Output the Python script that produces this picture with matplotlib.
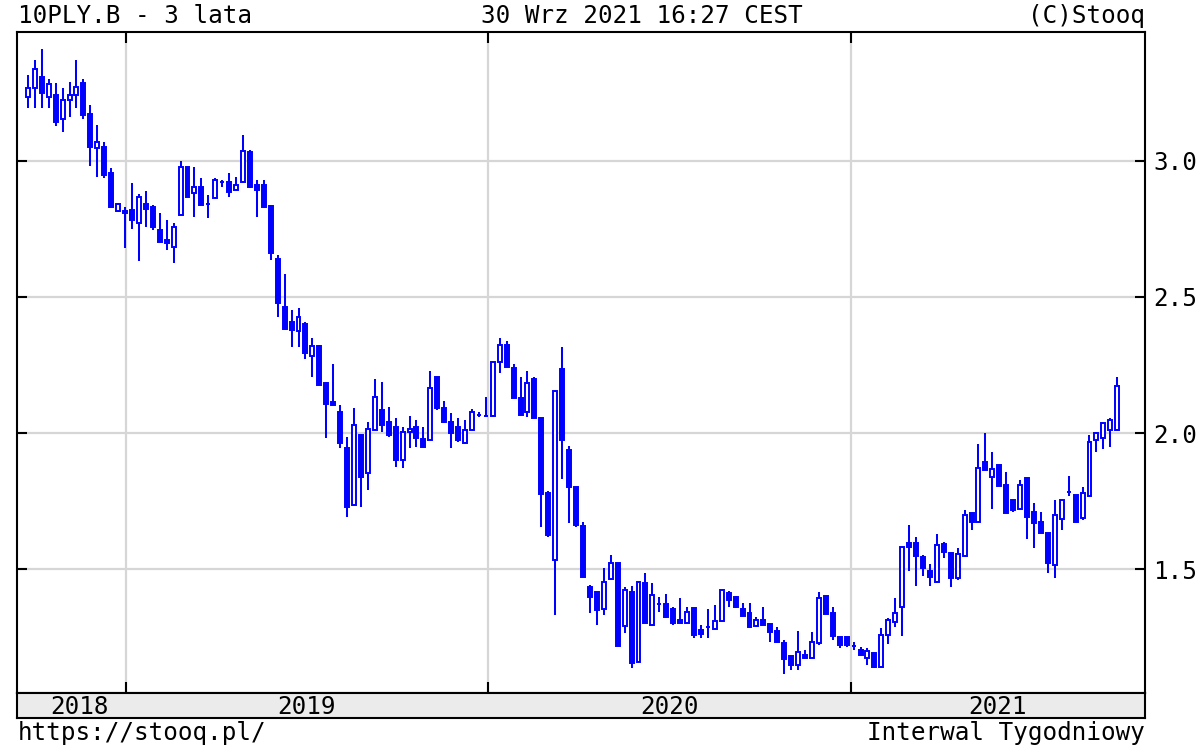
import matplotlib
matplotlib.use('Agg')
import matplotlib.pyplot as plt
import matplotlib.dates as mdates
import numpy as np
import pandas as pd

# ---- data (weekly OHLC, 10PLY.B) ----
start_date = '2018-09-24'
opens = [3.235, 3.268, 3.309, 3.235, 3.243, 3.155, 3.224, 3.243, 3.287, 3.173,
         3.048, 3.052, 2.956, 2.816, 2.816, 2.820, 2.772, 2.842, 2.831, 2.746,
         2.710, 2.684, 2.802, 2.978, 2.882, 2.904, 2.842, 2.864, 2.923, 2.923,
         2.893, 2.923, 3.033, 2.912, 2.912, 2.835, 2.640, 2.463, 2.408, 2.375,
         2.401, 2.283, 2.320, 2.184, 2.114, 2.077, 1.945, 1.735, 1.993, 1.853,
         2.011, 2.085, 2.041, 2.022, 1.901, 2.004, 2.022, 1.978, 1.974, 2.206,
         2.092, 2.041, 2.022, 1.963, 2.011, 2.066, 2.063, 2.063, 2.261, 2.324,
         2.239, 2.129, 2.077, 2.199, 2.055, 1.780, 1.533, 2.236, 1.938, 1.802,
         1.658, 1.434, 1.416, 1.353, 1.463, 1.522, 1.291, 1.416, 1.158, 1.449,
         1.294, 1.372, 1.372, 1.353, 1.313, 1.302, 1.357, 1.276, 1.287, 1.280,
         1.309, 1.412, 1.397, 1.353, 1.338, 1.291, 1.313, 1.298, 1.272, 1.228,
         1.180, 1.147, 1.184, 1.173, 1.228, 1.401, 1.338, 1.250, 1.250, 1.217,
         1.202, 1.173, 1.191, 1.140, 1.258, 1.305, 1.360, 1.596, 1.596, 1.544,
         1.493, 1.452, 1.592, 1.559, 1.467, 1.548, 1.706, 1.673, 1.894, 1.838,
         1.883, 1.809, 1.754, 1.721, 1.835, 1.710, 1.673, 1.633, 1.515, 1.684,
         1.783, 1.772, 1.688, 1.769, 1.974, 1.982, 2.011, 2.011]
highs = [3.316, 3.371, 3.412, 3.302, 3.287, 3.268, 3.291, 3.371, 3.302, 3.206,
         3.132, 3.070, 2.974, 2.846, 2.831, 2.919, 2.879, 2.890, 2.838, 2.809,
         2.783, 2.772, 3.000, 2.978, 2.978, 2.938, 2.875, 2.938, 2.930, 2.956,
         2.941, 3.096, 3.040, 2.930, 2.930, 2.838, 2.654, 2.585, 2.452, 2.460,
         2.408, 2.349, 2.324, 2.188, 2.254, 2.103, 1.985, 2.092, 1.993, 2.041,
         2.199, 2.188, 2.096, 2.055, 2.022, 2.063, 2.048, 2.022, 2.228, 2.206,
         2.118, 2.074, 2.055, 2.048, 2.088, 2.077, 2.133, 2.261, 2.349, 2.338,
         2.254, 2.206, 2.228, 2.206, 2.055, 1.787, 2.155, 2.316, 1.952, 1.802,
         1.673, 1.441, 1.416, 1.504, 1.552, 1.522, 1.434, 1.438, 1.452, 1.486,
         1.449, 1.397, 1.408, 1.361, 1.394, 1.361, 1.357, 1.294, 1.353, 1.368,
         1.423, 1.419, 1.401, 1.375, 1.375, 1.324, 1.361, 1.298, 1.287, 1.239,
         1.180, 1.272, 1.202, 1.269, 1.416, 1.401, 1.361, 1.250, 1.250, 1.232,
         1.213, 1.210, 1.195, 1.283, 1.320, 1.394, 1.581, 1.662, 1.618, 1.552,
         1.519, 1.629, 1.599, 1.559, 1.577, 1.717, 1.706, 1.960, 2.000, 1.930,
         1.883, 1.857, 1.754, 1.827, 1.835, 1.743, 1.710, 1.633, 1.754, 1.754,
         1.842, 1.772, 1.802, 1.993, 2.004, 2.037, 2.055, 2.206]
lows = [3.195, 3.195, 3.195, 3.195, 3.129, 3.107, 3.162, 3.195, 3.155, 2.982,
        2.941, 2.938, 2.831, 2.813, 2.680, 2.750, 2.633, 2.757, 2.746, 2.702,
        2.673, 2.625, 2.802, 2.868, 2.794, 2.838, 2.791, 2.864, 2.904, 2.868,
        2.893, 2.923, 2.901, 2.794, 2.827, 2.636, 2.427, 2.383, 2.316, 2.316,
        2.272, 2.206, 2.177, 1.982, 2.103, 1.945, 1.691, 1.735, 1.728, 1.791,
        2.011, 2.004, 1.985, 1.875, 1.871, 1.945, 1.949, 1.949, 1.974, 2.085,
        2.037, 1.945, 1.967, 1.963, 2.011, 2.059, 2.059, 2.063, 2.221, 2.243,
        2.129, 2.066, 2.059, 2.055, 1.655, 1.618, 1.331, 1.831, 1.669, 1.655,
        1.471, 1.338, 1.294, 1.331, 1.463, 1.217, 1.265, 1.136, 1.158, 1.302,
        1.294, 1.342, 1.320, 1.294, 1.302, 1.302, 1.247, 1.247, 1.247, 1.280,
        1.309, 1.361, 1.357, 1.327, 1.287, 1.287, 1.294, 1.232, 1.232, 1.114,
        1.129, 1.129, 1.173, 1.173, 1.221, 1.335, 1.239, 1.210, 1.214, 1.202,
        1.184, 1.147, 1.136, 1.140, 1.225, 1.287, 1.254, 1.493, 1.438, 1.474,
        1.438, 1.452, 1.541, 1.434, 1.460, 1.548, 1.644, 1.673, 1.864, 1.721,
        1.805, 1.706, 1.710, 1.721, 1.610, 1.577, 1.633, 1.485, 1.467, 1.644,
        1.769, 1.673, 1.680, 1.769, 1.930, 1.941, 1.949, 2.011]
closes = [3.268, 3.338, 3.250, 3.283, 3.144, 3.224, 3.243, 3.272, 3.169, 3.052,
          3.070, 2.949, 2.831, 2.842, 2.809, 2.783, 2.868, 2.824, 2.757, 2.702,
          2.699, 2.757, 2.978, 2.868, 2.904, 2.838, 2.842, 2.930, 2.923, 2.886,
          2.912, 3.037, 2.904, 2.893, 2.831, 2.662, 2.478, 2.383, 2.379, 2.427,
          2.294, 2.320, 2.177, 2.107, 2.103, 1.963, 1.728, 2.030, 1.838, 2.015,
          2.133, 2.030, 1.993, 1.901, 2.004, 2.015, 1.982, 1.949, 2.166, 2.092,
          2.041, 2.000, 1.974, 2.011, 2.077, 2.066, 2.063, 2.261, 2.324, 2.243,
          2.129, 2.066, 2.184, 2.055, 1.776, 1.625, 2.155, 1.974, 1.802, 1.662,
          1.471, 1.397, 1.350, 1.452, 1.522, 1.217, 1.423, 1.155, 1.452, 1.302,
          1.405, 1.372, 1.324, 1.302, 1.302, 1.342, 1.258, 1.261, 1.287, 1.309,
          1.423, 1.386, 1.361, 1.327, 1.287, 1.313, 1.294, 1.269, 1.232, 1.169,
          1.147, 1.195, 1.173, 1.232, 1.394, 1.335, 1.254, 1.221, 1.221, 1.217,
          1.184, 1.199, 1.140, 1.258, 1.313, 1.338, 1.581, 1.581, 1.548, 1.504,
          1.471, 1.588, 1.563, 1.467, 1.555, 1.699, 1.673, 1.871, 1.864, 1.868,
          1.805, 1.706, 1.717, 1.809, 1.691, 1.669, 1.633, 1.522, 1.699, 1.754,
          1.783, 1.673, 1.780, 1.967, 2.000, 2.037, 2.048, 2.173]

year_starts = ['2019-01-01', '2020-01-01', '2021-01-01']
year_labels = ['2018', '2019', '2020', '2021']
year_label_dates = ['2018-11-15', '2019-07-02', '2020-07-02', '2021-05-29']
y_ticks = [1.5, 2.0, 2.5, 3.0]
y_tick_labels = ['1.5', '2.0', '2.5', '3.0']
x_range = ['2018-09-13', '2021-10-25']
y_range = [1.0445, 3.474]

title_left = '10PLY.B - 3 lata'
title_center = '30 Wrz 2021 16:27 CEST'
title_right = '(C)Stooq'
foot_left = 'https://stooq.pl/'
foot_right = 'Interwal Tygodniowy'

# ---- drawing ----
plt.rcParams['font.family'] = ['DejaVu Sans Mono']
FS = 17.5
blue = '#0000ff'
W, H = 1200, 750

fig = plt.figure(figsize=(12, 7.5), dpi=100)
fig.patch.set_facecolor('white')

ax = fig.add_axes([17 / W, 1 - 693 / H, 1128 / W, 661 / H])
o = np.array(opens); h = np.array(highs); l = np.array(lows); c = np.array(closes)
dates = pd.date_range(start_date, periods=len(opens), freq='7D')
x = mdates.date2num(dates.to_pydatetime())

ax.vlines(x, l, h, color=blue, lw=1.45, zorder=3)
up = c >= o
bot = np.minimum(o, c)
hgt = np.abs(c - o)
ax.bar(x[up], hgt[up], bottom=bot[up], width=4.0, facecolor='white',
       edgecolor=blue, linewidth=1.4, zorder=4)
ax.bar(x[~up], hgt[~up], bottom=bot[~up], width=4.0, facecolor=blue,
       edgecolor=blue, linewidth=1.4, zorder=4)

xs = [mdates.date2num(pd.Timestamp(d)) for d in x_range]
ax.set_xlim(xs)
ax.set_ylim(y_range)
ax.set_xticks([mdates.date2num(pd.Timestamp(d)) for d in year_starts])
ax.set_yticks(y_ticks)
ax.set_yticklabels(y_tick_labels)
ax.grid(True, color='#d6d6d6', lw=1.6)
ax.set_axisbelow(True)
ax.tick_params(axis='x', direction='in', length=8, width=1.5, top=True,
               bottom=True, labelbottom=False, color='black')
ax.tick_params(axis='y', direction='in', length=7, width=1.5, left=True,
               right=True, labelleft=False, labelright=True, pad=6,
               labelsize=FS)
for s in ax.spines.values():
    s.set_linewidth(1.5)
    s.set_color('black')

# year strip
ax2 = fig.add_axes([17 / W, 1 - 718 / H, 1128 / W, 25 / H])
ax2.set_facecolor('#ebebeb')
ax2.set_xlim(xs)
ax2.set_ylim(0, 1)
ax2.set_xticks([]); ax2.set_yticks([])
for s in ax2.spines.values():
    s.set_linewidth(1.5)
    s.set_color('black')
for lab, d in zip(year_labels, year_label_dates):
    ax2.text(mdates.date2num(pd.Timestamp(d)), 0.42, lab, ha='center',
             va='center', fontsize=FS)

fig.text(18 / W, 1 - 23 / H, title_left, ha='left', va='baseline', fontsize=FS)
fig.text(642 / W, 1 - 23 / H, title_center, ha='center', va='baseline', fontsize=FS)
fig.text(1145 / W, 1 - 23 / H, title_right, ha='right', va='baseline', fontsize=FS)
fig.text(18 / W, 1 - 740 / H, foot_left, ha='left', va='baseline', fontsize=FS)
fig.text(1145 / W, 1 - 740 / H, foot_right, ha='right', va='baseline', fontsize=FS)

fig.savefig('out.png', dpi=100)
